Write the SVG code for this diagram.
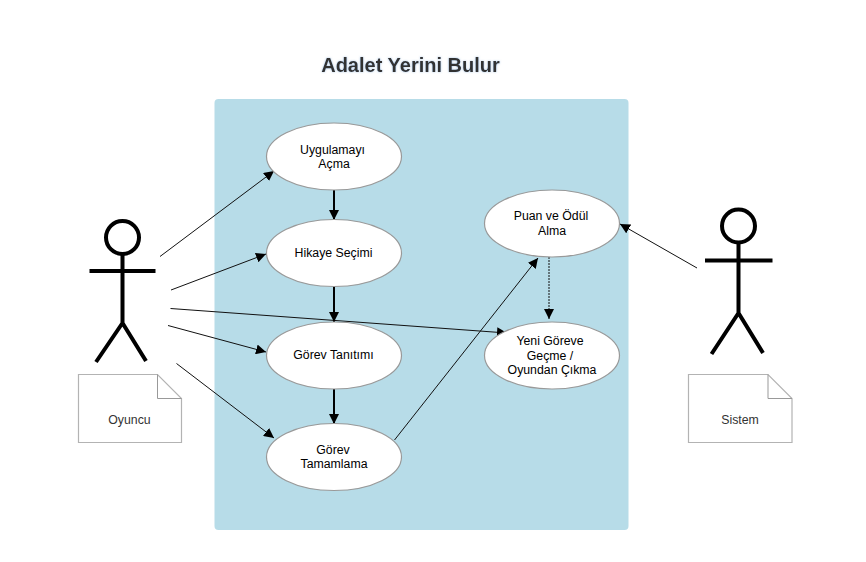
<svg xmlns="http://www.w3.org/2000/svg" width="866" height="562" viewBox="0 0 866 562">
<style>
text{font-family:"Liberation Sans",Arial,sans-serif;font-size:12.300px;text-anchor:middle;fill:#000}
.uc{fill:#fff;stroke:#999;stroke-width:1.2}
.stick{fill:none;stroke:#000;stroke-width:4}
.note{fill:#fff;stroke:#b3b3b3;stroke-width:1.2}
.notefold{fill:none;stroke:#999;stroke-width:1}
.lab{fill:#333}
.thin{fill:none;stroke:#111;stroke-width:1;marker-end:url(#a)}
.thick{fill:none;stroke:#000;stroke-width:2;marker-end:url(#b)}
.dash{fill:none;stroke:#111;stroke-width:1;stroke-dasharray:2 1;marker-end:url(#a)}
</style>
<defs>
<marker id="a" markerUnits="userSpaceOnUse" markerWidth="11" markerHeight="10" refX="10" refY="5" orient="auto"><path d="M0 0L10 5L0 10Z" fill="#000"/></marker>
<marker id="b" markerUnits="userSpaceOnUse" markerWidth="11" markerHeight="10" refX="10" refY="5" orient="auto"><path d="M0 0L10 5L0 10Z" fill="#000"/></marker>
<filter id="glow" x="-10%" y="-30%" width="120%" height="160%"><feDropShadow dx="0" dy="0" stdDeviation="1.2" flood-color="#6f9fd0" flood-opacity=".6"/></filter>
</defs>
<rect x="214.500" y="99" width="414" height="431" rx="4" fill="#b7dce8"/>
<text x="410.500" y="72" style="font-size:20px;font-weight:bold;fill:#333" filter="url(#glow)">Adalet Yerini Bulur</text>
<g id="connectors">
<path class="thin" d="M160 256.500L274 171"/>
<path class="thin" d="M171 290L266 254"/>
<path class="thin" d="M170.500 308.500L507 333"/>
<path class="thin" d="M168 325.500L266 352"/>
<path class="thin" d="M176.500 363.500L274 438"/>
<path class="thin" d="M394.500 440L538 258"/>
<path class="thin" d="M697 268L620 224"/>
<path class="thick" d="M334 185V220"/>
<path class="thick" d="M334 286V322"/>
<path class="thick" d="M334 388V424"/>
<path class="dash" d="M549 257V319"/>
</g>
<g id="uc1"><ellipse class="uc" cx="334" cy="156.500" rx="67.500" ry="33.500"/><text x="332.500" y="154">Uygulamayı</text><text x="334" y="168">Açma</text></g>
<g id="uc2"><ellipse class="uc" cx="334" cy="253" rx="67.500" ry="33.500"/><text x="333.500" y="257">Hikaye Seçimi</text></g>
<g id="uc3"><ellipse class="uc" cx="334" cy="355.500" rx="67.500" ry="33.500"/><text x="333.500" y="359">Görev Tanıtımı</text></g>
<g id="uc4"><ellipse class="uc" cx="334" cy="457" rx="67.500" ry="33.500"/><text x="333" y="454">Görev</text><text x="334" y="468">Tamamlama</text></g>
<g id="uc5"><ellipse class="uc" cx="552" cy="223.500" rx="67.500" ry="33.500"/><text x="551" y="220">Puan ve Ödül</text><text x="552" y="235">Alma</text></g>
<g id="uc6"><ellipse class="uc" cx="552" cy="355.500" rx="67.500" ry="33.500"/><text x="550" y="345">Yeni Göreve</text><text x="550" y="360">Geçme /</text><text x="552" y="374">Oyundan Çıkma</text></g>
<g id="actor1">
<circle class="stick" cx="122.500" cy="237.500" r="16.500"/>
<path class="stick" d="M122.500 254V323M89.500 271H155.500M122.500 323L96 362M122.500 323L146 361"/>
</g>
<g id="note1">
<path class="note" d="M78.500 374.500H157.500L181.500 398.500V442.500H78.500Z"/>
<path class="notefold" d="M157.500 374.500V398.500H181.500"/>
<text class="lab" x="129.500" y="424">Oyuncu</text>
</g>
<g id="actor2">
<circle class="stick" cx="738.500" cy="226" r="16.500"/>
<path class="stick" d="M738.500 243V313M705 260.500H772.500M738.500 313L711.500 354M738.500 313L763 353"/>
</g>
<g id="note2">
<path class="note" d="M688.500 374.500H768L792 398.500V442.500H688.500Z"/>
<path class="notefold" d="M768 374.500V398.500H792"/>
<text class="lab" x="740" y="424">Sistem</text>
</g>
</svg>
